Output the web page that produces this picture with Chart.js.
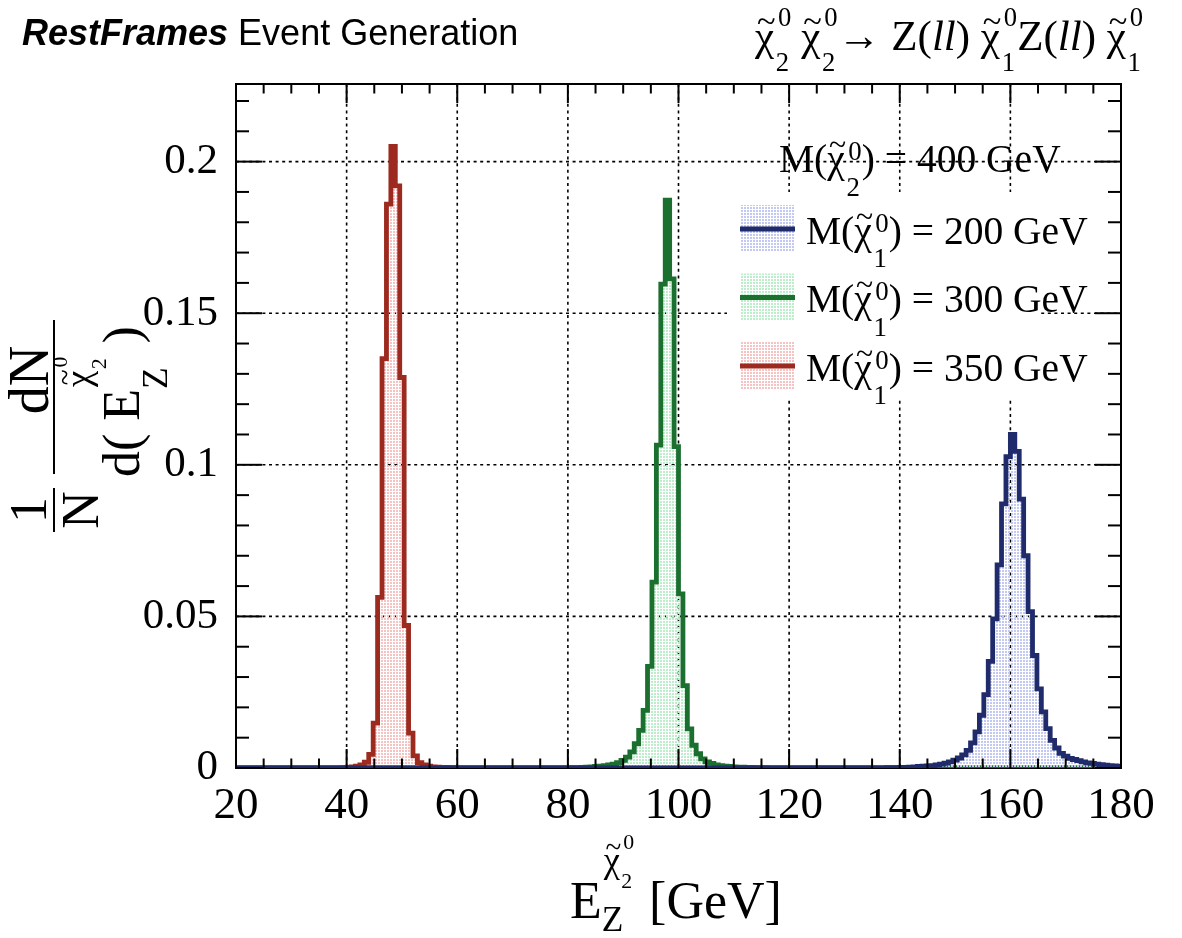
<!DOCTYPE html>
<html><head><meta charset="utf-8">
<script src="https://cdn.jsdelivr.net/npm/chart.js@4.4.1/dist/chart.umd.min.js"></script>
<style>html,body{margin:0;padding:0;background:#fff;}canvas{display:block;}</style>
</head><body>
<canvas id="c" width="1182" height="938"></canvas>
<script>
// ---- histogram definition: 200 bins from 20 to 180 GeV ----
const histMin = 20, histMax = 180, nBins = 200;

// ---- series values (1/N dN/dE per bin) ----
const blue200 = [
0,0,0,0,0,0,0,0,0,0, 0,0,0,0,0,0,0,0,0,0, 0,0,0,0,0,0,0,0,0,0, 0,0,0,0,0,0,0,0,0,0,
0,0,0,0,0,0,0,0,0,0, 0,0,0,0,0,0,0,0,0,0, 0,0,0,0,0,0,0,0,0,0, 0,0,0,0,0,0,0,0,0,0,
0,0,0,0,0,0,0,0,0,0, 0,0,0,0,0,0,0,0,0,0, 0,0,0,0,0,0,0,0,0,0, 0,0,0,0,0,0,0,0,0,0,
0,0,0,0,0,0,0,0,0,0, 0,0,0,0,0,0,0,0,0,0,
0,0,0,0,0,0,0,0.0001,0.0001,0.0001,
0.0002,0.0002,0.0003,0.0004,0.0005,0.0006,0.0007,0.0008,0.001,0.0013,
0.0016,0.002,0.0026,0.0033,0.0043,0.0058,0.0083,0.0119,0.0174,0.0242,
0.0352,0.0492,0.067,0.0871,0.1027,0.110,0.1044,0.0887,0.070,0.0516,
0.0371,0.0261,0.0185,0.013,0.0091,0.0066,0.0048,0.0039,0.0032,0.0028,
0.0024,0.002,0.0017,0.0015,0.0013,0.0011,0.0009,0.0008,0.0007,0.0006
];
const green300 = [
0,0,0,0,0,0,0,0,0,0, 0,0,0,0,0,0,0,0,0,0, 0,0,0,0,0,0,0,0,0,0, 0,0,0,0,0,0,0,0,0,0,
0,0,0,0,0,0,0,0,0,0, 0,0,0,0,0,0,0,0,0,0, 0,0,0,0,0,0,0,0,0,0,
0,0,0,0,0,0,0.0001,0.0001,0.0002,0.0003,
0.0004,0.0005,0.0006,0.0008,0.001,0.0013,0.0018,0.0025,0.0036,0.0053,
0.008,0.0124,0.019,0.0335,0.0613,0.1065,0.1596,0.1873,0.1613,0.106,
0.0574,0.0272,0.0129,0.0075,0.0047,0.003,0.002,0.0015,0.001,0.0008,
0.0006,0.0005,0.0004,0.0003,0.0003,0.0002,0.0002,0.0001,0.0001,0.0001,
0,0,0,0,0,0,0,0,0,0, 0,0,0,0,0,0,0,0,0,0, 0,0,0,0,0,0,0,0,0,0, 0,0,0,0,0,0,0,0,0,0,
0,0,0,0,0,0,0,0,0,0, 0,0,0,0,0,0,0,0,0,0, 0,0,0,0,0,0,0,0,0,0, 0,0,0,0,0,0,0,0,0,0
];
const red350 = [
0,0,0,0,0,0,0,0,0,0, 0,0,0,0,0,0,0,0,0,0,
0,0,0,0,0.0001,0.0002,0.0004,0.0006,0.001,0.0019,
0.0045,0.0148,0.0563,0.135,0.186,0.205,0.192,0.1288,0.047,0.0115,
0.004,0.0018,0.001,0.0006,0.0004,0.0003,0.0002,0.0002,0.0001,0.0001,
0,0,0,0,0,0,0,0,0,0, 0,0,0,0,0,0,0,0,0,0, 0,0,0,0,0,0,0,0,0,0, 0,0,0,0,0,0,0,0,0,0,
0,0,0,0,0,0,0,0,0,0, 0,0,0,0,0,0,0,0,0,0, 0,0,0,0,0,0,0,0,0,0, 0,0,0,0,0,0,0,0,0,0,
0,0,0,0,0,0,0,0,0,0, 0,0,0,0,0,0,0,0,0,0, 0,0,0,0,0,0,0,0,0,0, 0,0,0,0,0,0,0,0,0,0,
0,0,0,0,0,0,0,0,0,0, 0,0,0,0,0,0,0,0,0,0, 0,0,0,0,0,0,0,0,0,0
];

// ---- labels ----
const legendMasses = ['200', '300', '350'];
const headerMass = '400';
const xTickStep = 20, xMinorStep = 5;
const yTickStep = 0.05, yMinorStep = 0.01, yMax = 0.2256;

const lineColors = ['#1f2b6b', '#1b7030', '#9c2a1f'];
const dotColors  = ['#c3c9f2', '#bdeecb', '#f6c2c2'];

const canvas = document.getElementById('c');
const ctx0 = canvas.getContext('2d');
function makePattern(color){
  const c = document.createElement('canvas'); c.width = 3; c.height = 3;
  const g = c.getContext('2d'); g.fillStyle = color; g.fillRect(0,0,2,2);
  return ctx0.createPattern(c, 'repeat');
}
const patterns = dotColors.map(makePattern);

function toPoints(vals){
  const w = (histMax - histMin) / nBins;
  const pts = vals.map((v,i) => ({x: histMin + w*i, y: v}));
  pts.push({x: histMax, y: vals[vals.length-1]});
  return pts;
}
const seriesVals = [blue200, green300, red350];

// ---- text helpers ----
const SERIF = '"Liberation Serif","Times New Roman",serif';
function setF(ctx, size, style){ ctx.font = (style ? style + ' ' : '') + size + 'px ' + SERIF; }
function T(ctx, s, x, y, size, style){ setF(ctx, size, style); ctx.fillText(s, x, y); return x + ctx.measureText(s).width; }
function Chi(ctx, x, y, S){
  setF(ctx, S); const w = ctx.measureText('χ').width; ctx.fillText('χ', x, y);
  setF(ctx, S*0.8); const tw = ctx.measureText('~').width;
  ctx.fillText('~', x + w/2 - tw/2 + S*0.04, y - S*0.42);
  return x + w + S*0.04;
}
function SS(ctx, x, y, S, sub, sup, r, subDy, supDy){
  let w1 = 0, w2 = 0;
  setF(ctx, S*r);
  if (sub){ ctx.fillText(sub, x, y + subDy*S); w1 = ctx.measureText(sub).width; }
  if (sup){ ctx.fillText(sup, x + S*0.05, y - supDy*S); w2 = ctx.measureText(sup).width + S*0.05; }
  return x + Math.max(w1, w2);
}
function chiLabel(ctx, x, y, S, idx){
  let p = T(ctx, 'M(', x, y, S);
  p = Chi(ctx, p, y, S);
  p = SS(ctx, p, y, S, idx, '0', 0.68, 0.6, 0.3);
  return T(ctx, ')', p, y, S);
}

const rootFrame = {
  id: 'rootFrame',
  beforeDatasetsDraw(chart){
    const {ctx, chartArea: a, scales: {x, y}} = chart;
    ctx.save();
    ctx.strokeStyle = '#000'; ctx.lineWidth = 1.6; ctx.setLineDash([3, 3.6]);
    x.ticks.forEach(t => {
      if (t.value <= x.min || t.value >= x.max) return;
      const p = x.getPixelForValue(t.value);
      ctx.beginPath(); ctx.moveTo(p, a.top); ctx.lineTo(p, a.bottom); ctx.stroke();
    });
    y.ticks.forEach(t => {
      if (t.value <= y.min || t.value >= y.max) return;
      const p = y.getPixelForValue(t.value);
      ctx.beginPath(); ctx.moveTo(a.left, p); ctx.lineTo(a.right, p); ctx.stroke();
    });
    ctx.setLineDash([]);
    ctx.fillStyle = '#fff'; ctx.fillRect(727, 192, 313, 208);
    ctx.lineWidth = 2; ctx.strokeRect(a.left, a.top, a.right - a.left, a.bottom - a.top);
    ctx.restore();
  },
  afterDatasetsDraw(chart){
    const {ctx, chartArea: a, scales: {x, y}} = chart;
    ctx.save(); ctx.strokeStyle = '#000'; ctx.lineWidth = 2;
    const seg = (x1,y1,x2,y2) => { ctx.beginPath(); ctx.moveTo(x1,y1); ctx.lineTo(x2,y2); ctx.stroke(); };
    const mx = x.ticks.map(t => t.value);
    for (let k = 0; ; k++){
      const v = x.min + k*xMinorStep; if (v > x.max + 1e-9) break;
      const L = mx.some(m => Math.abs(m - v) < 1e-6) ? 19 : 9.5;
      const p = x.getPixelForValue(v);
      seg(p, a.bottom, p, a.bottom - L); seg(p, a.top, p, a.top + L);
    }
    const my = y.ticks.map(t => t.value);
    for (let k = 0; ; k++){
      const v = y.min + k*yMinorStep; if (v > y.max + 1e-9) break;
      const L = my.some(m => Math.abs(m - v) < 1e-6) ? 26 : 13;
      const p = y.getPixelForValue(v);
      seg(a.left, p, a.left + L, p); seg(a.right, p, a.right - L, p);
    }
    ctx.restore();
  },
  afterDraw(chart){
    const ctx = chart.ctx;
    ctx.save();
    ctx.fillStyle = '#000'; ctx.textBaseline = 'alphabetic'; ctx.textAlign = 'left';
    // top-left
    ctx.font = 'italic bold 36px "Liberation Sans", Arial, sans-serif';
    ctx.fillText('RestFrames', 22, 45);
    let w = ctx.measureText('RestFrames ').width;
    ctx.font = '36px "Liberation Sans", Arial, sans-serif';
    ctx.fillText('Event Generation', 22 + w, 45);
    // top-right process
    const S = 43, yb = 50;
    let p = 755;
    p = Chi(ctx, p, yb, S); p = SS(ctx, p, yb, S, '2', '0', 0.62, 0.48, 0.55); p += 10;
    p = Chi(ctx, p, yb, S); p = SS(ctx, p, yb, S, '2', '0', 0.62, 0.48, 0.55);
    p = T(ctx, '→ Z(', p, yb, S); p = T(ctx, 'll', p, yb, S, 'italic'); p = T(ctx, ') ', p, yb, S);
    p = Chi(ctx, p, yb, S); p = SS(ctx, p, yb, S, '1', '0', 0.62, 0.48, 0.55);
    p = T(ctx, 'Z(', p, yb, S); p = T(ctx, 'll', p, yb, S, 'italic'); p = T(ctx, ') ', p, yb, S);
    p = Chi(ctx, p, yb, S); p = SS(ctx, p, yb, S, '1', '0', 0.62, 0.48, 0.55);

    // legend
    const LS = 39.5;
    let q = chiLabel(ctx, 779, 172, LS, '2');
    T(ctx, ' = ' + headerMass + ' GeV', q, 172, LS);
    for (let i = 0; i < 3; i++){
      const yy = 205 + 68.5*i;
      ctx.fillStyle = patterns[i]; ctx.fillRect(740, yy, 55, 47);
      ctx.strokeStyle = lineColors[i]; ctx.lineWidth = 5;
      ctx.beginPath(); ctx.moveTo(740, yy + 24); ctx.lineTo(795, yy + 24); ctx.stroke();
      ctx.fillStyle = '#000';
      q = chiLabel(ctx, 806, 243.5 + 68.5*i, LS, '1');
      T(ctx, ' = ' + legendMasses[i] + ' GeV', q, 243.5 + 68.5*i, LS);
    }

    // x title
    const XS = 52;
    let e = T(ctx, 'E', 570, 918, XS);
    const zEnd = T(ctx, 'Z', e, 931, XS*0.68);
    let c = Chi(ctx, e + 2, 872, XS*0.7);
    c = SS(ctx, c, 872, XS*0.7, '2', '0', 0.6, 0.45, 0.62);
    T(ctx, ' [GeV]', Math.max(zEnd, c) + 2, 918, XS);

    // y title (rotated)
    ctx.rotate(-Math.PI/2);
    const YS = 52;
    setF(ctx, YS);
    let w1 = ctx.measureText('1').width, wN = ctx.measureText('N').width;
    ctx.fillText('1', -510 - w1/2, 46);
    ctx.fillText('N', -510 - wN/2, 98);
    ctx.lineWidth = 2; ctx.strokeStyle = '#000';
    ctx.beginPath(); ctx.moveTo(-532, 54); ctx.lineTo(-488, 54); ctx.stroke();
    ctx.beginPath(); ctx.moveTo(-474, 54); ctx.lineTo(-320, 54); ctx.stroke();
    setF(ctx, 56);
    const wdN = ctx.measureText('dN').width;
    ctx.fillText('dN', -380 - wdN/2, 48);
    let u = T(ctx, 'd( E', -477, 139, YS);
    const zE = T(ctx, 'Z', u, 167, YS*0.68);
    let cu = Chi(ctx, u + 2, 90, YS*0.7);
    cu = SS(ctx, cu, 90, YS*0.7, '2', '0', 0.6, 0.45, 0.62);
    T(ctx, ' )', Math.max(zE, cu), 139, YS);
    ctx.restore();
  }
};

new Chart(canvas, {
  type: 'line',
  data: {
    datasets: seriesVals.map((vals, i) => ({
      data: toPoints(vals),
      stepped: 'before',
      borderColor: lineColors[i],
      borderWidth: 4.8,
      backgroundColor: patterns[i],
      fill: 'origin',
      pointRadius: 0,
      tension: 0
    }))
  },
  options: {
    responsive: false, animation: false, devicePixelRatio: 1,
    layout: {padding: {left: 0, right: 61, top: 84, bottom: 0}},
    plugins: {legend: {display: false}, tooltip: {enabled: false}},
    scales: {
      x: {
        type: 'linear', min: histMin, max: histMax,
        afterFit(s){ s.height = 170; },
        grid: {display: false}, border: {display: false},
        ticks: {stepSize: xTickStep, color: '#000', padding: 3, maxRotation: 0, autoSkip: false,
                font: {family: 'Liberation Serif', size: 45}}
      },
      y: {
        min: 0, max: yMax,
        afterFit(s){ s.width = 236; },
        grid: {display: false}, border: {display: false},
        ticks: {stepSize: yTickStep, includeBounds: false, color: '#000', padding: 10,
                font: {family: 'Liberation Serif', size: 43},
                callback: v => String(Math.round(v*100)/100)}
      }
    }
  },
  plugins: [rootFrame]
});
</script>
</body></html>
